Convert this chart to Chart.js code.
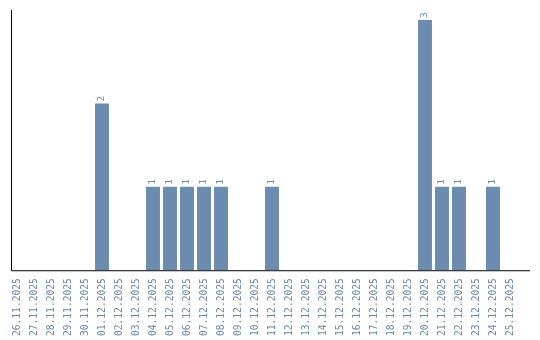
<!DOCTYPE html>
<html lang="en">
<head>
  <meta charset="UTF-8" />
  <title>Daily counts</title>
  <style>
    body { margin: 0; background: #fff; }
    #wrap { width: 540px; height: 340px; position: relative; }
  </style>
</head>
<body>
  <div id="wrap"><canvas id="chart"></canvas></div>

  <script src="https://cdn.jsdelivr.net/npm/chart.js"></script>
  <script>
    const days = [
      '26.11.2025', '27.11.2025', '28.11.2025', '29.11.2025', '30.11.2025',
      '01.12.2025', '02.12.2025', '03.12.2025', '04.12.2025', '05.12.2025',
      '06.12.2025', '07.12.2025', '08.12.2025', '09.12.2025', '10.12.2025',
      '11.12.2025', '12.12.2025', '13.12.2025', '14.12.2025', '15.12.2025',
      '16.12.2025', '17.12.2025', '18.12.2025', '19.12.2025', '20.12.2025',
      '21.12.2025', '22.12.2025', '23.12.2025', '24.12.2025', '25.12.2025'
    ];
    const counts = [
      0, 0, 0, 0, 0,
      2, 0, 0, 1, 1,
      1, 1, 1, 0, 0,
      1, 0, 0, 0, 0,
      0, 0, 0, 0, 3,
      1, 1, 0, 1, 0
    ];

    const barColor = '#6b8cae';
    const textColor = '#6a8bad';
    const monoFont = "'DejaVu Sans Mono', monospace";

    // black axis lines, drawn a bit wider than the bar area like the original
    const axisLines = {
      id: 'axisLines',
      afterDraw(chart) {
        const c = chart.ctx, a = chart.chartArea;
        c.save();
        c.strokeStyle = '#000';
        c.lineWidth = 1;
        c.beginPath();
        c.moveTo(11.5, 10);
        c.lineTo(11.5, a.bottom + 0.5);
        c.lineTo(530, a.bottom + 0.5);
        c.stroke();
        c.restore();
      }
    };

    // rotated value labels above each bar
    const valueLabels = {
      id: 'valueLabels',
      afterDatasetsDraw(chart) {
        const c = chart.ctx;
        const meta = chart.getDatasetMeta(0);
        c.save();
        c.fillStyle = textColor;
        c.font = '9.5px ' + monoFont;
        c.textAlign = 'left';
        c.textBaseline = 'middle';
        meta.data.forEach((bar, i) => {
          const v = counts[i];
          if (!v) return;
          c.save();
          c.translate(bar.x, bar.y - 2);
          c.rotate(-Math.PI / 2);
          c.fillText(String(v), 0, 0);
          c.restore();
        });
        c.restore();
      }
    };

    new Chart(document.getElementById('chart'), {
      type: 'bar',
      data: {
        labels: days,
        datasets: [{
          data: counts,
          backgroundColor: barColor,
          barPercentage: 1,
          categoryPercentage: 0.82
        }]
      },
      options: {
        responsive: true,
        maintainAspectRatio: false,
        animation: false,
        layout: { padding: { left: 8.5, right: 21.5, top: 10, bottom: 4 } },
        plugins: {
          legend: { display: false },
          tooltip: { enabled: false }
        },
        scales: {
          x: {
            grid: { display: false },
            border: { display: false },
            ticks: {
              color: textColor,
              font: { family: monoFont, size: 9.6 },
              minRotation: 90,
              maxRotation: 90,
              autoSkip: false,
              padding: 0
            }
          },
          y: {
            display: false,
            min: 0,
            max: 3.12
          }
        }
      },
      plugins: [axisLines, valueLabels]
    });
  </script>
</body>
</html>
